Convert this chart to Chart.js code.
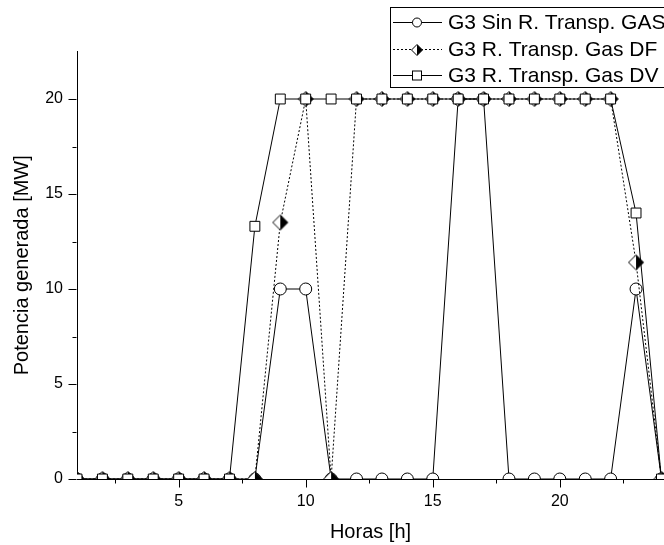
<!DOCTYPE html>
<html>
<head>
<meta charset="utf-8">
<script src="https://cdn.jsdelivr.net/npm/chart.js@4/dist/chart.umd.min.js"></script>
<style>
  html, body { margin: 0; padding: 0; background: #fff; }
  #wrap { width: 664px; height: 545px; overflow: hidden; }
</style>
</head>
<body>
<div id="wrap"><canvas id="c" width="664" height="545"></canvas></div>
<script>
// Hourly generation of unit G3 (MW)
const hours = [1, 2, 3, 4, 5, 6, 7, 8, 9, 10, 11, 12, 13, 14, 15, 16, 17, 18, 19, 20, 21, 22, 23, 24];
const sinRestriccionGas = [0, 0, 0, 0, 0, 0, 0, 0, 10, 10, 0, 0, 0, 0, 0, 20, 20, 0, 0, 0, 0, 0, 10, 0];
const restriccionGasDF = [0, 0, 0, 0, 0, 0, 0, 0, 13.5, 20, 0, 20, 20, 20, 20, 20, 20, 20, 20, 20, 20, 20, 11.4, 0];
const restriccionGasDV = [0, 0, 0, 0, 0, 0, 0, 13.3, 20, 20, 20, 20, 20, 20, 20, 20, 20, 20, 20, 20, 20, 20, 14, 0];

const seriesNames = ['G3 Sin R. Transp. GAS', 'G3 R. Transp. Gas DF', 'G3 R. Transp. Gas DV'];

const xMajorTicks = [5, 10, 15, 20];
const xMinorTicks = [2.5, 7.5, 12.5, 17.5, 22.5];
const yMajorTicks = [0, 5, 10, 15, 20];
const yMinorTicks = [2.5, 7.5, 12.5, 17.5];

const FONT = '"Liberation Sans", Arial, sans-serif';

// Half-filled diamond marker (white left half, black right half)
function halfDiamond(half) {
  const s = Math.ceil(half * 2 + 3);
  const cv = document.createElement('canvas');
  cv.width = s; cv.height = s;
  const g = cv.getContext('2d');
  const c = s / 2;
  g.lineWidth = 1;
  const outline = () => {
    g.beginPath();
    g.moveTo(c, c - half); g.lineTo(c + half, c); g.lineTo(c, c + half); g.lineTo(c - half, c); g.closePath();
  };
  outline(); g.fillStyle = '#fff'; g.fill();
  g.beginPath();
  g.moveTo(c, c - half); g.lineTo(c + half, c); g.lineTo(c, c + half); g.closePath();
  g.fillStyle = '#000'; g.fill();
  outline(); g.strokeStyle = '#000'; g.stroke();
  return cv;
}
const diamondMarker = halfDiamond(7.5);
const diamondLegend = halfDiamond(5.5);

const toPoints = (vals) => hours.map((h, i) => ({ x: h, y: vals[i] }));

// Keep lines and markers inside the axes frame
const frameClip = {
  id: 'frameClip',
  beforeDatasetsDraw(chart) {
    const { ctx, chartArea: a } = chart;
    ctx.save();
    ctx.beginPath();
    ctx.rect(a.left, a.top, a.right - a.left, a.bottom - a.top);
    ctx.clip();
  },
  afterDatasetsDraw(chart) {
    chart.ctx.restore();
  }
};

// Outward major / minor tick marks on both axes
const tickMarks = {
  id: 'tickMarks',
  afterDraw(chart) {
    const { ctx, chartArea, scales } = chart;
    ctx.save();
    ctx.strokeStyle = '#000';
    ctx.lineWidth = 1;
    ctx.beginPath();
    const xb = Math.round(chartArea.bottom) + 0.5;
    xMajorTicks.forEach(v => { const p = Math.round(scales.x.getPixelForValue(v)) + 0.5; ctx.moveTo(p, xb); ctx.lineTo(p, xb + 8); });
    xMinorTicks.forEach(v => { const p = Math.round(scales.x.getPixelForValue(v)) + 0.5; ctx.moveTo(p, xb); ctx.lineTo(p, xb + 4); });
    const yl = Math.round(chartArea.left) - 0.5;
    yMajorTicks.forEach(v => { const p = Math.round(scales.y.getPixelForValue(v)) + 0.5; ctx.moveTo(yl, p); ctx.lineTo(yl - 8, p); });
    yMinorTicks.forEach(v => { const p = Math.round(scales.y.getPixelForValue(v)) + 0.5; ctx.moveTo(yl, p); ctx.lineTo(yl - 4, p); });
    ctx.stroke();
    ctx.restore();
  }
};

// Boxed legend with line samples and markers
const boxLegend = {
  id: 'boxLegend',
  afterDraw(chart) {
    const { ctx } = chart;
    const left = 390.5, top = 7.5, bottom = 87.5, right = 700;
    ctx.save();
    ctx.fillStyle = '#fff';
    ctx.fillRect(left, top, right - left, bottom - top);
    ctx.strokeStyle = '#000';
    ctx.lineWidth = 1;
    ctx.strokeRect(left, top, right - left, bottom - top);
    const rows = [22, 49, 75];
    const x0 = 393, x1 = 442, xm = 417;
    chart.data.datasets.forEach((ds, i) => {
      const y = rows[i] + 0.5;
      ctx.beginPath();
      ctx.setLineDash(ds.borderDash || []);
      ctx.moveTo(x0, y); ctx.lineTo(x1, y);
      ctx.strokeStyle = '#000';
      ctx.stroke();
      ctx.setLineDash([]);
      if (ds.pointStyle === 'circle') {
        ctx.beginPath(); ctx.arc(xm, y, 4.5, 0, Math.PI * 2);
        ctx.fillStyle = '#fff'; ctx.fill(); ctx.stroke();
      } else if (ds.pointStyle === 'rect') {
        ctx.fillStyle = '#fff';
        ctx.fillRect(xm - 4.5, y - 4.5, 9, 9);
        ctx.strokeRect(xm - 4.5, y - 4.5, 9, 9);
      } else {
        ctx.drawImage(diamondLegend, Math.round(xm - diamondLegend.width / 2), Math.round(y - diamondLegend.height / 2));
      }
      ctx.fillStyle = '#000';
      ctx.font = '21px ' + FONT;
      ctx.textAlign = 'left';
      ctx.textBaseline = 'middle';
      ctx.fillText(ds.label, 448, rows[i] + 1);
    });
    ctx.restore();
  }
};

new Chart(document.getElementById('c'), {
  type: 'line',
  data: {
    datasets: [
      {
        label: seriesNames[0],
        data: toPoints(sinRestriccionGas),
        borderColor: '#000', borderWidth: 1,
        pointStyle: 'circle', pointRadius: 6,
        pointBackgroundColor: '#fff', pointBorderColor: '#000', pointBorderWidth: 1,
        clip: 0,
        order: 2
      },
      {
        label: seriesNames[1],
        data: toPoints(restriccionGasDF),
        borderColor: '#000', borderWidth: 1, borderDash: [2, 2],
        pointStyle: diamondMarker, pointRadius: 7,
        clip: 0,
        order: 1
      },
      {
        label: seriesNames[2],
        data: toPoints(restriccionGasDV),
        borderColor: '#000', borderWidth: 1,
        pointStyle: 'rect', pointRadius: 7,
        pointBackgroundColor: '#fff', pointBorderColor: '#000', pointBorderWidth: 1,
        clip: 0,
        order: 0
      }
    ]
  },
  options: {
    responsive: false,
    animation: false,
    devicePixelRatio: 1,
    layout: { autoPadding: false, padding: { top: 51.5, right: 0, bottom: 0, left: 0 } },
    plugins: { legend: { display: false }, tooltip: { enabled: false } },
    elements: { line: { tension: 0 } },
    scales: {
      x: {
        type: 'linear',
        min: 1, max: 24.1,
        afterBuildTicks: (s) => { s.ticks = xMajorTicks.map(v => ({ value: v })); },
        afterFit: (s) => { s.height = 66; s.paddingLeft = 0; s.paddingRight = 0; },
        grid: { drawOnChartArea: false, drawTicks: false },
        border: { display: true, color: '#000', width: 1 },
        ticks: { color: '#000', font: { family: FONT, size: 16 }, padding: 13, maxRotation: 0, autoSkip: false },
        title: { display: true, text: 'Horas [h]', color: '#000', font: { family: FONT, size: 20, lineHeight: 1.2 }, padding: { top: 0, bottom: 1 } }
      },
      y: {
        type: 'linear',
        min: 0, max: 22.5,
        afterBuildTicks: (s) => { s.ticks = yMajorTicks.map(v => ({ value: v })); },
        afterFit: (s) => { s.width = 77; s.paddingTop = 0; s.paddingBottom = 0; },
        grid: { drawOnChartArea: false, drawTicks: false },
        border: { display: true, color: '#000', width: 1 },
        ticks: { color: '#000', font: { family: FONT, size: 16 }, padding: 14, autoSkip: false },
        title: { display: true, text: 'Potencia generada [MW]', color: '#000', font: { family: FONT, size: 20, lineHeight: 1.2 }, padding: { top: 10, bottom: 0 } }
      }
    }
  },
  plugins: [frameClip, tickMarks, boxLegend]
});
</script>
</body>
</html>
